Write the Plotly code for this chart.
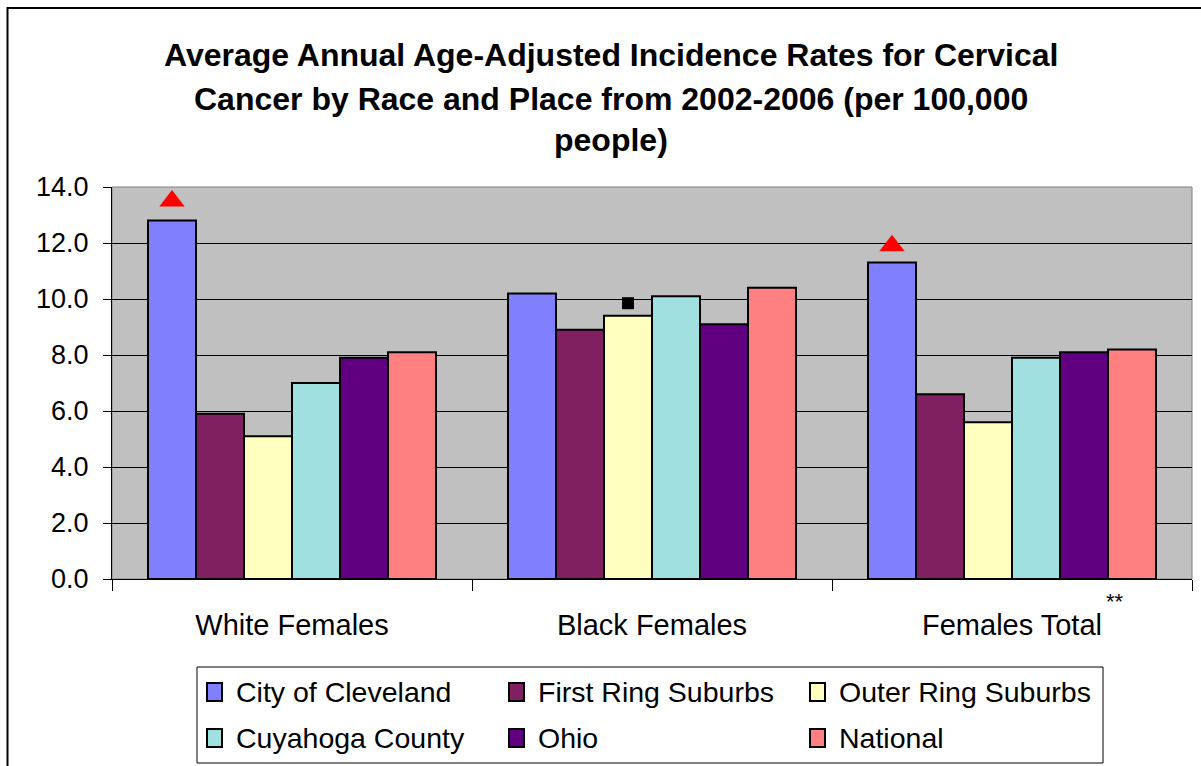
import plotly.graph_objects as go

# ---- data ----
categories = ["White Females", "Black Females", "Females Total"]
series_names = ["City of Cleveland", "First Ring Suburbs", "Outer Ring Suburbs",
                "Cuyahoga County", "Ohio", "National"]
cleveland = [12.8, 10.2, 11.3]
first_ring = [5.9, 8.9, 6.6]
outer_ring = [5.1, 9.4, 5.6]
cuyahoga = [7.0, 10.1, 7.9]
ohio = [7.9, 9.1, 8.1]
national = [8.1, 10.4, 8.2]
series_values = [cleveland, first_ring, outer_ring, cuyahoga, ohio, national]
colors = ["#8080FF", "#802060", "#FFFFC0", "#A0E0E0", "#600080", "#FF8080"]

# significance markers (position)
triangle_series = 0            # City of Cleveland
triangle_y = [13.5, None, 11.9]
square_series = 2              # Outer Ring Suburbs
square_y = [None, 9.85, None]

title_lines = ["Average Annual Age-Adjusted Incidence Rates for Cervical",
               "Cancer by Race and Place from 2002-2006 (per 100,000",
               "people)"]
y_ticks = [0, 2, 4, 6, 8, 10, 12, 14]

FONT = "Liberation Sans, Arial, sans-serif"

fig = go.Figure()
for name, vals, col in zip(series_names, series_values, colors):
    fig.add_trace(go.Bar(x=categories, y=vals, name=name, showlegend=False,
                         marker=dict(color=col, line=dict(color="black", width=2))))

BARGAP = 0.2
n = len(series_names)
bw = (1 - BARGAP) / n
def offset(i):
    return -(1 - BARGAP) / 2 + (i + 0.5) * bw

fig.add_trace(go.Scatter(
    x=[k + offset(triangle_series) for k in range(len(categories))], y=triangle_y,
    mode="markers", xaxis="x2", showlegend=False, hoverinfo="skip",
    marker=dict(symbol="triangle-up", size=22, color="#FF0000")))
fig.add_trace(go.Scatter(
    x=[k + offset(square_series) for k in range(len(categories))], y=square_y,
    mode="markers", xaxis="x2", showlegend=False, hoverinfo="skip",
    marker=dict(symbol="square", size=12, color="black")))

L, R, T, B = 112, 9, 187, 187
W, H = 1201, 766
pw, ph = W - L - R, H - T - B

def px_x(p):
    return (p - L) / pw
def px_y(p):
    return (H - B - p) / ph

annotations = []
for line, yc in zip(title_lines, [55, 99, 140]):
    annotations.append(dict(text="<b>" + line + "</b>", x=px_x(611), y=px_y(yc),
                            xref="paper", yref="paper", showarrow=False,
                            xanchor="center", yanchor="middle",
                            font=dict(family=FONT, size=32, color="black")))
annotations.append(dict(text="**", x=px_x(1115), y=px_y(601), xref="paper", yref="paper",
                        showarrow=False, xanchor="center", yanchor="middle",
                        font=dict(family=FONT, size=22, color="black")))

# ---- legend (3 columns x 2 rows, boxed) ----
legend_cols_sw = [207, 509, 810]
legend_rows = [692, 738]
shapes = [
    dict(type="rect", xref="paper", yref="paper", x0=0, x1=1, y0=0, y1=1,
         line=dict(color="#808080", width=1), layer="below"),
    dict(type="rect", xref="paper", yref="paper", x0=px_x(7.5), x1=px_x(1240),
         y0=px_y(8), y1=px_y(790), line=dict(color="black", width=2)),
    dict(type="rect", xref="paper", yref="paper", x0=px_x(197), x1=px_x(1103),
         y0=px_y(667), y1=px_y(763), line=dict(color="black", width=1),
         fillcolor="white"),
]
for i, (name, col) in enumerate(zip(series_names, colors)):
    cx = legend_cols_sw[i % 3]
    cy = legend_rows[i // 3]
    shapes.append(dict(type="rect", xref="paper", yref="paper",
                       x0=px_x(cx), x1=px_x(cx + 15), y0=px_y(cy - 9), y1=px_y(cy + 9),
                       fillcolor=col, line=dict(color="black", width=2)))
    annotations.append(dict(text=name, x=px_x(cx + 27), y=px_y(cy), xref="paper",
                            yref="paper", showarrow=False, xanchor="left",
                            yanchor="middle",
                            font=dict(family=FONT, size=28.5, color="black")))

fig.update_layout(
    width=W, height=H,
    margin=dict(l=L, r=R, t=T, b=B, autoexpand=False),
    paper_bgcolor="white", plot_bgcolor="#C0C0C0",
    barmode="group", bargap=BARGAP, bargroupgap=0,
    font=dict(family=FONT, size=27, color="black"),
    showlegend=False,
    xaxis=dict(type="category", range=[-0.5, 2.5], tickson="boundaries",
               ticks="outside", ticklen=11, tickcolor="black", showline=True,
               linecolor="black", linewidth=1, showgrid=False,
               tickfont=dict(size=29), ticklabelstandoff=20),
    xaxis2=dict(overlaying="x", range=[-0.5, 2.5], visible=False),
    yaxis=dict(range=[0, 14], tickvals=y_ticks, tickformat=".1f", ticks="outside",
               ticklen=8, tickcolor="black", showline=True, linecolor="black",
               linewidth=1, gridcolor="black", gridwidth=1, zeroline=False,
               tickfont=dict(size=27), ticklabelstandoff=9),
    annotations=annotations,
    shapes=shapes,
)

fig.write_html("out.html")
